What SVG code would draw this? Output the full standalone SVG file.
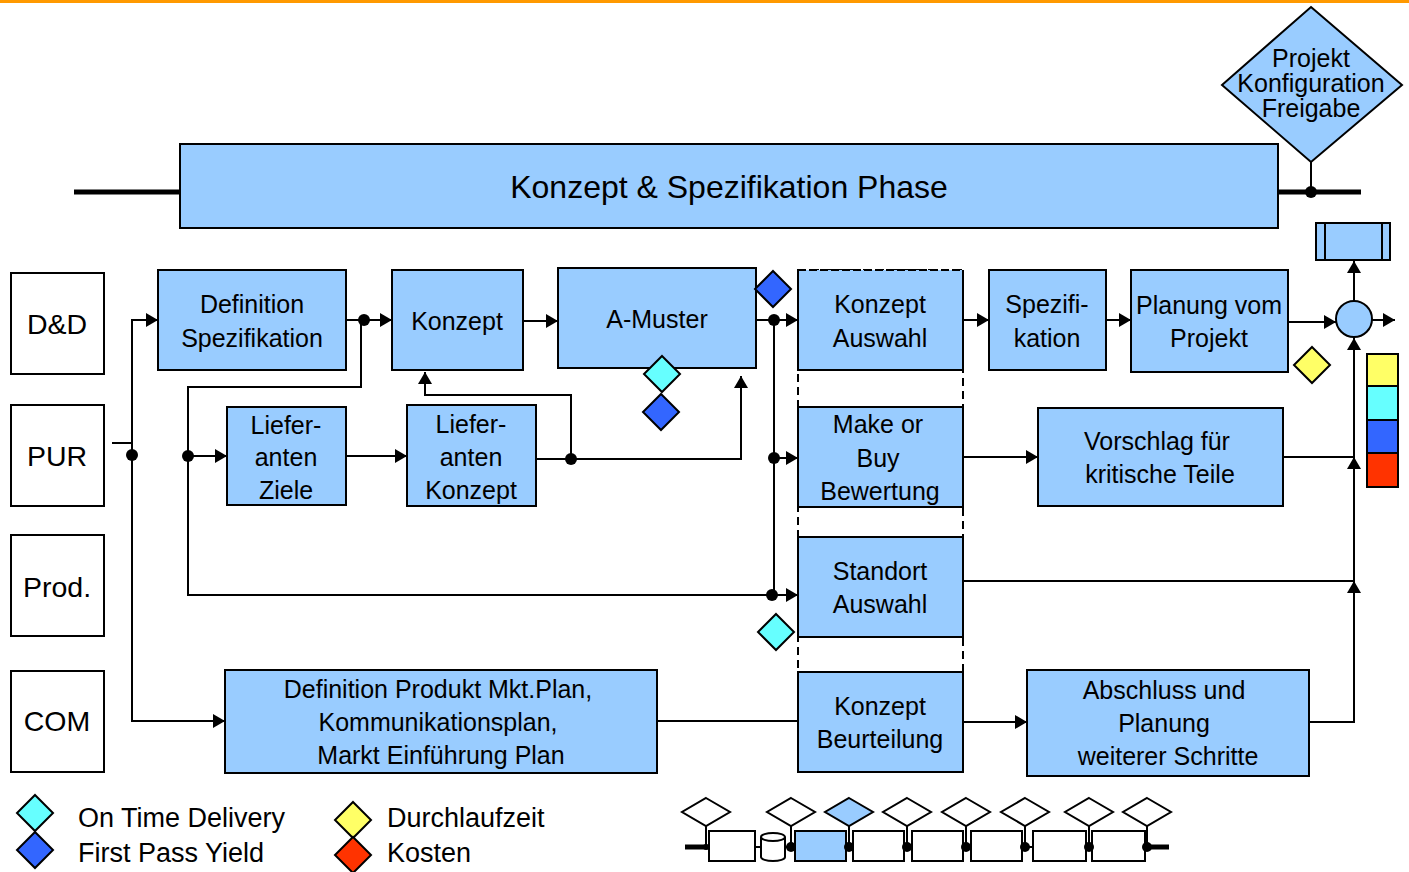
<svg xmlns="http://www.w3.org/2000/svg" width="1409" height="872" viewBox="0 0 1409 872">
<style>
text{font-family:"Liberation Sans",Arial,sans-serif;fill:#000;text-anchor:middle}
.b{fill:#99CCFF;stroke:#000;stroke-width:2}
.w{fill:#fff;stroke:#000;stroke-width:2}
.t{font-size:25px}
.l{font-size:28.5px}
.g{font-size:27px;text-anchor:start}
.c{fill:none;stroke:#000;stroke-width:2}
.a{marker-end:url(#ah)}
.cy{fill:#66FFFF}.bl{fill:#3366FF}.ye{fill:#FFFF66}.rd{fill:#FF3300}
.k{stroke:#000;stroke-width:2}
</style>
<defs>
<marker id="ah" markerWidth="12" markerHeight="14" refX="12" refY="7" orient="auto" markerUnits="userSpaceOnUse"><path d="M0,0 L12,7 L0,14 z" fill="#000"/></marker>
<path id="dm" d="M0,-18 L18,0 L0,18 L-18,0 z"/>
<path id="sd" d="M0,-14 L24,0 L0,14 L-24,0 z"/>
</defs>
<rect x="0" y="0" width="1409" height="3" fill="#FF9900"/>

<g id="connectors">
<line x1="74" y1="192" x2="180" y2="192" stroke="#000" stroke-width="5"/>
<line x1="1278" y1="192" x2="1361" y2="192" stroke="#000" stroke-width="5"/>
<line x1="1311" y1="162" x2="1311" y2="192" class="c"/>
<circle cx="1311" cy="192" r="6"/>
<path class="c" d="M112,443 H132"/>
<path class="c a" d="M132,455 V320 H158"/>
<path class="c a" d="M132,455 V721 H225"/>
<circle cx="132" cy="455" r="6"/>
<path class="c a" d="M346,320 H392"/>
<circle cx="364" cy="320" r="6"/>
<path class="c" d="M361,320 V387 H188 V456"/>
<path class="c a" d="M188,456 H227"/>
<circle cx="188" cy="456" r="6"/>
<path class="c a" d="M188,456 V595 H798"/>
<path class="c a" d="M523,321 H558"/>
<path class="c a" d="M756,320 H798"/>
<path class="c" d="M774,320 V595"/>
<path class="c a" d="M774,458 H798"/>
<circle cx="774" cy="320" r="6"/>
<circle cx="774" cy="458" r="6"/>
<circle cx="772" cy="595" r="6"/>
<path class="c a" d="M963,320 H989"/>
<path class="c a" d="M1106,320 H1131"/>
<path class="c a" d="M1288,322 H1336"/>
<path class="c a" d="M1372,320 H1395"/>
<path class="c a" d="M1354,301 V261"/>
<path class="c a" d="M346,456 H407"/>
<path class="c a" d="M536,459 H741 V376"/>
<path class="c a" d="M571,459 V395 H425 V372"/>
<circle cx="571" cy="459" r="6"/>
<path class="c a" d="M963,457 H1038"/>
<path class="c" d="M1283,457 H1354"/>
<path class="c" d="M963,581 H1354"/>
<path class="c" d="M657,721 H798"/>
<path class="c a" d="M963,722 H1027"/>
<path class="c a" d="M1309,722 H1354 V581"/>
<path class="c a" d="M1354,581 V457"/>
<path class="c a" d="M1354,457 V338"/>
</g>

<g id="phase"><rect class="b" x="180" y="144" width="1098" height="84"/><text x="729" y="198" style="font-size:32px">Konzept &amp; Spezifikation Phase</text></g>
<g id="freigabe"><path class="b" d="M1311,7 L1402,85 L1311,162 L1222,85 z"/>
<text x="1311" y="67" style="font-size:25px">Projekt</text><text x="1311" y="92" style="font-size:25px">Konfiguration</text><text x="1311" y="117" style="font-size:25px">Freigabe</text></g>
<g id="endbox"><rect class="b" x="1316" y="223" width="74" height="37"/><line class="k" x1="1325" y1="223" x2="1325" y2="260"/><line class="k" x1="1382" y1="223" x2="1382" y2="260"/></g>
<g id="join"><circle class="b" cx="1354" cy="319" r="18"/></g>
<g id="kpi-bar"><rect class="ye k" x="1367" y="354" width="31" height="32"/><rect class="cy k" x="1367" y="386" width="31" height="34"/><rect class="bl k" x="1367" y="420" width="31" height="33"/><rect class="rd k" x="1367" y="453" width="31" height="34"/></g>

<g id="lane-dd"><rect class="w" x="11" y="273" width="93" height="101"/><text class="l" x="57" y="334">D&amp;D</text></g>
<g id="lane-pur"><rect class="w" x="11" y="405" width="93" height="101"/><text class="l" x="57" y="466">PUR</text></g>
<g id="lane-prod"><rect class="w" x="11" y="535" width="93" height="101"/><text class="l" x="57" y="597">Prod.</text></g>
<g id="lane-com"><rect class="w" x="11" y="671" width="93" height="101"/><text class="l" x="57" y="731">COM</text></g>

<g id="def-spez"><rect class="b" x="158" y="270" width="188" height="100"/><text class="t" x="252" y="313">Definition</text><text class="t" x="252" y="347">Spezifikation</text></g>
<g id="konzept"><rect class="b" x="392" y="270" width="131" height="100"/><text class="t" x="457" y="330">Konzept</text></g>
<g id="a-muster"><rect class="b" x="558" y="268" width="198" height="100"/><text class="t" x="657" y="328">A-Muster</text></g>
<g id="column"><rect x="798" y="270" width="165" height="502" fill="none" stroke="#000" stroke-width="2" stroke-dasharray="8,5"/></g>
<g id="konzept-auswahl"><rect x="798" y="270" width="165" height="100" fill="#99CCFF"/><path class="c" d="M798,270 V370 H963 V270"/><path class="c" d="M798,270 H963" stroke-dasharray="8,3"/><text class="t" x="880" y="313">Konzept</text><text class="t" x="880" y="347">Auswahl</text></g>
<g id="spezifikation"><rect class="b" x="989" y="270" width="117" height="100"/><text class="t" x="1047" y="313">Spezifi-</text><text class="t" x="1047" y="347">kation</text></g>
<g id="planung"><rect class="b" x="1131" y="270" width="157" height="102"/><text class="t" x="1209" y="314">Planung vom</text><text class="t" x="1209" y="347">Projekt</text></g>
<g id="lief-ziele"><rect class="b" x="227" y="407" width="119" height="98"/><text class="t" x="286" y="434">Liefer-</text><text class="t" x="286" y="466">anten</text><text class="t" x="286" y="499">Ziele</text></g>
<g id="lief-konzept"><rect class="b" x="407" y="405" width="129" height="101"/><text class="t" x="471" y="433">Liefer-</text><text class="t" x="471" y="466">anten</text><text class="t" x="471" y="499">Konzept</text></g>
<g id="make-buy"><rect class="b" x="798" y="407" width="165" height="100"/><text class="t" x="878" y="433">Make or</text><text class="t" x="878" y="467">Buy</text><text class="t" x="880" y="500">Bewertung</text></g>
<g id="vorschlag"><rect class="b" x="1038" y="408" width="245" height="98"/><text class="t" x="1157" y="450">Vorschlag für</text><text class="t" x="1160" y="483">kritische Teile</text></g>
<g id="standort"><rect class="b" x="798" y="537" width="165" height="100"/><text class="t" x="880" y="580">Standort</text><text class="t" x="880" y="613">Auswahl</text></g>
<g id="def-produkt"><rect class="b" x="225" y="670" width="432" height="103"/><text class="t" x="438" y="698">Definition Produkt Mkt.Plan,</text><text class="t" x="438" y="731">Kommunikationsplan,</text><text class="t" x="441" y="764">Markt Einführung Plan</text></g>
<g id="konzept-beurteilung"><rect class="b" x="798" y="672" width="165" height="100"/><text class="t" x="880" y="715">Konzept</text><text class="t" x="880" y="748">Beurteilung</text></g>
<g id="abschluss"><rect class="b" x="1027" y="670" width="282" height="106"/><text class="t" x="1164" y="699">Abschluss und</text><text class="t" x="1164" y="732">Planung</text><text class="t" x="1168" y="765">weiterer Schritte</text></g>

<g id="kpi-diamonds">
<use href="#dm" x="773" y="289" class="bl k"/>
<use href="#dm" x="662" y="374" class="cy k"/>
<use href="#dm" x="661" y="412" class="bl k"/>
<use href="#dm" x="776" y="632" class="cy k"/>
<use href="#dm" x="1312" y="365" class="ye k"/>
</g>

<g id="legend">
<use href="#dm" x="35" y="813" class="cy k"/>
<use href="#dm" x="35" y="850" class="bl k"/>
<use href="#dm" x="353" y="820" class="ye k"/>
<use href="#dm" x="353" y="855" class="rd k"/>
<text class="g" x="78" y="827">On Time Delivery</text>
<text class="g" x="78" y="862">First Pass Yield</text>
<text class="g" x="387" y="827">Durchlaufzeit</text>
<text class="g" x="387" y="862">Kosten</text>
</g>

<g id="mini-chain">
<line x1="685" y1="847" x2="1169" y2="847" stroke="#000" stroke-width="2"/>
<line x1="685" y1="847" x2="708" y2="847" stroke="#000" stroke-width="5"/>
<line x1="1146" y1="847" x2="1169" y2="847" stroke="#000" stroke-width="5"/>
<g stroke="#000" stroke-width="2">
<line x1="706" y1="826" x2="706" y2="847"/><line x1="791" y1="826" x2="791" y2="847"/><line x1="849" y1="826" x2="849" y2="847"/><line x1="907" y1="826" x2="907" y2="847"/><line x1="966" y1="826" x2="966" y2="847"/><line x1="1025" y1="826" x2="1025" y2="847"/><line x1="1089" y1="826" x2="1089" y2="847"/><line x1="1147" y1="826" x2="1147" y2="847"/>
</g>
<use href="#sd" x="706" y="812" class="w"/>
<use href="#sd" x="791" y="812" class="w"/>
<use href="#sd" x="849" y="812" class="b"/>
<use href="#sd" x="907" y="812" class="w"/>
<use href="#sd" x="966" y="812" class="w"/>
<use href="#sd" x="1025" y="812" class="w"/>
<use href="#sd" x="1089" y="812" class="w"/>
<use href="#sd" x="1147" y="812" class="w"/>
<rect class="w" x="709" y="831" width="46" height="30"/>
<path class="w" d="M761,837 V857 A12,4 0 0 0 785,857 V837 A12,4 0 0 0 761,837 A12,4 0 0 0 785,837"/>
<rect class="b" x="795" y="831" width="51" height="30"/>
<rect class="w" x="853" y="831" width="51" height="30"/>
<rect class="w" x="912" y="831" width="51" height="30"/>
<rect class="w" x="971" y="831" width="51" height="30"/>
<rect class="w" x="1033" y="831" width="53" height="30"/>
<rect class="w" x="1092" y="831" width="53" height="30"/>
<g fill="#000"><circle cx="791" cy="847" r="5"/><circle cx="849" cy="847" r="5"/><circle cx="907" cy="847" r="5"/><circle cx="966" cy="847" r="5"/><circle cx="1025" cy="847" r="5"/><circle cx="1089" cy="847" r="5"/><circle cx="1147" cy="847" r="5"/><circle cx="706" cy="847" r="3"/></g>
</g>
</svg>
